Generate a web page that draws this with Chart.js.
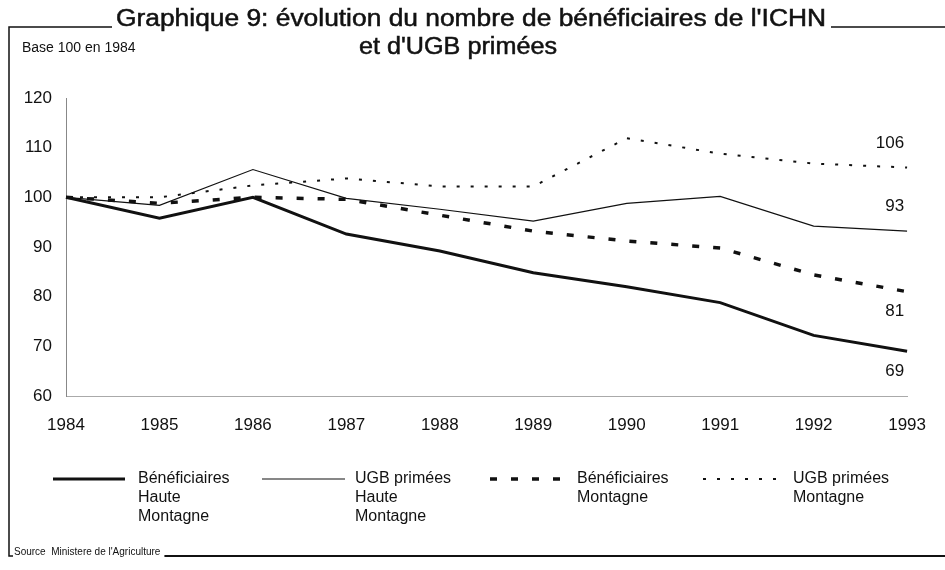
<!DOCTYPE html>
<html>
<head>
<meta charset="utf-8">
<script src="https://cdn.jsdelivr.net/npm/chart.js@4.4.1/dist/chart.umd.min.js"></script>
<style>
  body { margin: 0; background: #fff; }
  canvas { display: block; }
</style>
</head>
<body>
<canvas id="graph" width="945" height="570"></canvas>
<script>
// données (base 100 en 1984)
var annees = ['1984', '1985', '1986', '1987', '1988', '1989', '1990', '1991', '1992', '1993'];
var benefHauteMontagne = [100, 95.8, 100, 92.6, 89.2, 84.8, 82, 78.8, 72.2, 69];
var ugbHauteMontagne = [100, 98.4, 105.6, 99.8, 97.6, 95.2, 98.8, 100.2, 94.2, 93.2];
var benefMontagne = [100, 98.8, 100, 99.6, 96.4, 93.2, 91.2, 89.8, 84.4, 81];
var ugbMontagne = [100, 100, 102.4, 103.8, 102.2, 102.2, 111.9, 108.8, 106.8, 106];
var ticksY = [60, 70, 80, 90, 100, 110, 120];

var police = '"Liberation Sans", Arial, sans-serif';
var noir = '#111';

// texte étiré pour occuper une largeur donnée
function texteLargeur(ctx, txt, x, y, largeur) {
    var w = ctx.measureText(txt).width;
    ctx.save();
    ctx.translate(x, y);
    ctx.scale(largeur / w, 1);
    ctx.lineWidth = 0.5;
    ctx.strokeText(txt, 0, 0);
    ctx.fillText(txt, 0, 0);
    ctx.restore();
}

// cadre, titre, legende et valeurs finales dessinés à la main
var decor = {
    id: 'decor',
    afterDraw: function (chart) {
        var ctx = chart.ctx;
        ctx.save();
        ctx.fillStyle = noir;
        ctx.strokeStyle = noir;

        // titre
        ctx.font = '23px ' + police;
        ctx.textBaseline = 'middle';
        ctx.textAlign = 'center';
        texteLargeur(ctx, "Graphique 9: évolution du nombre de bénéficiaires de l'ICHN", 471, 20, 710);
        texteLargeur(ctx, "et d'UGB primées", 458, 48, 198);

        // cadre
        ctx.lineWidth = 1.5;
        ctx.beginPath();
        ctx.moveTo(112, 27);
        ctx.lineTo(9, 27);
        ctx.lineTo(9, 556);
        ctx.lineTo(13, 556);
        ctx.moveTo(831, 27);
        ctx.lineTo(945, 27);
        ctx.stroke();

        ctx.font = '10px ' + police;
        ctx.textAlign = 'left';
        ctx.fillText("Source  Ministere de l'Agriculture", 14, 552);
        var ws = ctx.measureText("Source  Ministere de l'Agriculture").width;
        ctx.lineWidth = 2;
        ctx.beginPath();
        ctx.moveTo(14 + ws + 4, 556);
        ctx.lineTo(945, 556);
        ctx.stroke();

        ctx.font = '14px ' + police;
        ctx.fillText('Base 100 en 1984', 22, 48);

        // valeurs en bout de courbe
        var decalages = [20, -25, 20, -24];
        chart.data.datasets.forEach(function (ds, i) {
            var pts = chart.getDatasetMeta(i).data;
            var p = pts[pts.length - 1];
            ctx.font = '17px ' + police;
            ctx.textAlign = 'right';
            ctx.fillText(Math.round(ds.data[ds.data.length - 1]), p.x - 3, p.y + decalages[i]);
        });

        // legende sur plusieurs lignes
        var legX = [[53, 125, 138], [262, 345, 355], [490, 562, 577], [703, 778, 793]];
        chart.data.datasets.forEach(function (ds, i) {
            var l = legX[i];
            ctx.lineWidth = ds.borderWidth;
            ctx.setLineDash(ds.borderDash || []);
            ctx.beginPath();
            ctx.moveTo(l[0], 479);
            ctx.lineTo(l[1], 479);
            ctx.stroke();
            ctx.setLineDash([]);
            ctx.font = '16px ' + police;
            ctx.textAlign = 'left';
            ds.lignesLegende.forEach(function (txt, j) {
                ctx.fillText(txt, l[2], 479 + j * 19);
            });
        });
        ctx.restore();
    }
};

new Chart(document.getElementById('graph'), {
    type: 'line',
    data: {
        labels: annees,
        datasets: [{
            label: 'Bénéficiaires Haute Montagne',
            lignesLegende: ['Bénéficiaires', 'Haute', 'Montagne'],
            data: benefHauteMontagne,
            borderColor: noir,
            borderWidth: 3,
            pointRadius: 0,
            tension: 0
        }, {
            label: 'UGB primées Haute Montagne',
            lignesLegende: ['UGB primées', 'Haute', 'Montagne'],
            data: ugbHauteMontagne,
            borderColor: noir,
            borderWidth: 1.2,
            pointRadius: 0,
            tension: 0
        }, {
            label: 'Bénéficiaires Montagne',
            lignesLegende: ['Bénéficiaires', 'Montagne'],
            data: benefMontagne,
            borderColor: noir,
            borderWidth: 3.5,
            borderDash: [7, 14],
            pointRadius: 0,
            tension: 0
        }, {
            label: 'UGB primées Montagne',
            lignesLegende: ['UGB primées', 'Montagne'],
            data: ugbMontagne,
            borderColor: noir,
            borderWidth: 2,
            borderDash: [3, 11],
            pointRadius: 0,
            tension: 0
        }]
    },
    options: {
        responsive: false,
        animation: false,
        layout: { padding: { left: 0, right: 35, top: 98, bottom: 129 } },
        plugins: {
            legend: { display: false },
            title: { display: false },
            tooltip: { enabled: false }
        },
        scales: {
            x: {
                grid: { display: false, drawTicks: false },
                border: { display: true, color: '#aaa', dash: [2, 6], width: 1 },
                ticks: { color: noir, font: { family: police, size: 17 }, padding: 19, maxRotation: 0 },
                afterFit: function (s) { s.height = 45; }
            },
            y: {
                min: 60,
                max: 120,
                afterBuildTicks: function (s) {
                    s.ticks = ticksY.map(function (v) { return { value: v }; });
                },
                grid: { display: false, drawTicks: false },
                border: { display: true, color: '#888', dash: [2, 5], width: 1 },
                ticks: { color: noir, font: { family: police, size: 17 }, padding: 14 },
                afterFit: function (s) { s.width = 66; }
            }
        }
    },
    plugins: [decor]
});
</script>
</body>
</html>
